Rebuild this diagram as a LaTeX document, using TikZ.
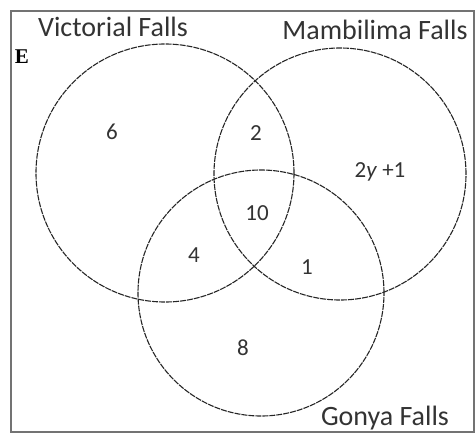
\documentclass[tikz,border=0pt]{standalone}
\usepackage{fontspec}
\setmainfont{Carlito}
\newfontfamily\univfont{Liberation Serif}
\begin{document}
\begin{tikzpicture}[
x=1pt, y=-1pt,
setcircle/.style={draw, circle, line width=1.1pt, black!85, dash pattern=on 6pt off 1pt},
setlabel/.style={font=\fontsize{28}{32}\selectfont, text=black!80},
region/.style={font=\fontsize{23}{26}\selectfont, text=black!80}
]
\useasboundingbox (0,0) rectangle (475,434);
\draw[black!55, line width=1.4pt] (11,11) rectangle (474,432);
% the three sets
\node[setcircle, minimum size=258pt] (vic) at (165,173) {};
\node[setcircle, minimum size=252pt] (mam) at (340,174) {};
\node[setcircle, minimum size=246pt] (gon) at (261,293) {};
% set names
\node[setlabel] (vicname) at (113,27) {Victorial Falls};
\node[setlabel] (mamname) at (375,30) {Mambilima Falls};
\node[setlabel] (gonname) at (385,418) {Gonya Falls};
\node[font=\fontsize{21}{24}\selectfont\univfont\bfseries] (univ) at (22,57) {E};
% region counts
\node[region] (onlyvic) at (112,132) {6};
\node[region] (vicmam) at (256,133) {2};
\node[region] (onlymam) at (380,172) {2\textit{y} +1};
\node[region] (all) at (257,213) {10};
\node[region] (vicgon) at (194,255) {4};
\node[region] (mamgon) at (307,267) {1};
\node[region] (onlygon) at (243,348) {8};
\end{tikzpicture}
\end{document}
